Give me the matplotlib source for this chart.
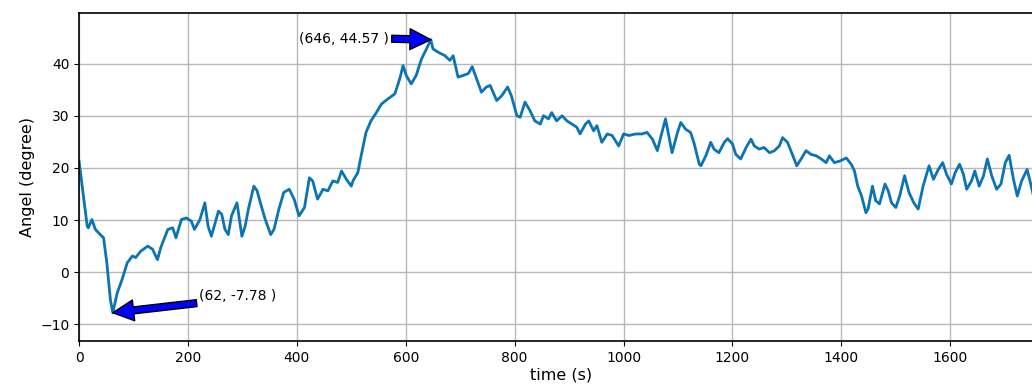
import numpy as np
import matplotlib
matplotlib.use('Agg')
import matplotlib.pyplot as plt

# angle trace, sampled by hand along the recording (t in s, angle in degree)
t = [0, 15, 17, 23.5, 30, 39, 45, 51, 57.6, 62, 70, 79, 88.5, 98, 104, 113, 126, 135, 144, 150,
     163, 172, 178, 188, 197, 206, 212, 222, 231, 237, 243, 256, 262, 268, 274, 280, 290, 299, 305, 311,
     321, 327, 333, 342, 352, 358, 367, 376, 386, 395, 404, 414, 423, 429, 438, 448, 457, 466, 475, 482,
     491, 500, 503, 512, 518, 527, 536, 546, 555, 567, 580, 589, 595, 601, 610, 619, 629, 638, 646, 650,
     659, 672, 681, 687, 696, 705, 715, 722, 730, 739, 748, 755, 767, 776, 787, 794, 804, 810, 819, 828,
     837, 847, 853, 862, 868, 877, 887, 896, 905, 914, 920, 930, 936, 945, 951, 960, 970, 979, 991, 1000,
     1010, 1022, 1034, 1043, 1053, 1062, 1068, 1077, 1083, 1089, 1099, 1105, 1114, 1123, 1129, 1139, 1142, 1151, 1160, 1166,
     1175, 1185, 1191, 1200, 1206, 1215, 1225, 1234, 1240, 1249, 1258, 1268, 1277, 1286, 1292, 1301, 1311, 1318, 1326, 1335,
     1344, 1354, 1363, 1372, 1378, 1387, 1397, 1409, 1418, 1424, 1430, 1437, 1445, 1449, 1457, 1463, 1470, 1480, 1486, 1492,
     1500, 1507, 1516, 1524, 1533, 1541, 1550, 1561, 1569, 1578, 1586, 1593, 1602, 1609, 1617, 1624, 1630, 1639, 1645, 1653,
     1661, 1668, 1676, 1685, 1693, 1701, 1708, 1716, 1723, 1731, 1741, 1747, 1754, 1760]
angle = [21.3, 8.8, 8.5, 10.1, 8.2, 7.2, 6.6, 1.8, -5.3, -7.78, -4.0, -1.4, 1.8, 3.1, 2.8, 4.0, 5.0, 4.4, 2.4, 4.7,
         8.2, 8.5, 6.6, 10.1, 10.4, 9.8, 8.2, 10.1, 13.3, 8.8, 6.9, 11.7, 11.1, 8.2, 7.2, 10.8, 13.3, 6.9, 8.8, 12.1,
         16.5, 15.6, 13.3, 10.1, 7.2, 8.2, 12.1, 15.3, 15.9, 14.0, 10.8, 12.4, 18.1, 17.5, 14.0, 15.9, 15.6, 17.5, 17.2, 19.4,
         17.8, 16.5, 17.5, 19.1, 22.3, 26.8, 29.0, 30.6, 32.2, 33.2, 34.2, 37.1, 39.6, 37.7, 36.1, 37.7, 40.9, 42.8, 44.57, 42.8,
         42.2, 41.5, 40.6, 41.5, 37.4, 37.7, 38.1, 39.4, 37.1, 34.5, 35.5, 35.8, 32.9, 33.8, 35.5, 33.8, 30.0, 29.7, 32.6, 31.0,
         29.0, 28.4, 30.0, 29.4, 30.6, 29.0, 30.0, 29.0, 28.4, 27.8, 26.5, 28.4, 29.0, 27.1, 28.1, 24.9, 26.5, 26.2, 24.2, 26.5,
         26.2, 26.5, 26.5, 26.8, 25.5, 23.3, 25.8, 29.4, 26.2, 22.9, 26.8, 28.7, 27.4, 26.8, 24.9, 20.7, 20.4, 22.3, 24.9, 23.6,
         22.9, 24.9, 25.6, 24.6, 22.6, 21.7, 23.9, 25.5, 24.2, 23.6, 23.9, 22.9, 23.3, 24.2, 25.8, 24.9, 22.3, 20.4, 21.7, 23.3,
         22.6, 22.3, 21.7, 21.0, 22.3, 21.0, 21.3, 21.9, 20.7, 19.4, 16.5, 14.6, 11.4, 12.1, 16.5, 13.7, 13.1, 16.9, 15.6, 13.3,
         12.4, 14.6, 18.5, 15.3, 13.3, 12.1, 16.5, 20.4, 17.8, 19.7, 21.0, 18.8, 16.9, 19.1, 20.7, 18.8, 15.9, 17.5, 19.4, 16.5,
         18.5, 21.7, 18.5, 15.9, 16.9, 21.0, 22.4, 17.8, 14.6, 17.5, 19.7, 17.2, 14.0, 13.5]

x_ticks = [0, 200, 400, 600, 800, 1000, 1200, 1400, 1600]
y_ticks = [-10, 0, 10, 20, 30, 40]

fig = plt.figure(figsize=(10.32, 3.92), dpi=100)
ax = fig.add_axes([0.0766, 0.130, 0.935, 0.837])

ax.plot(t, angle, color='#0a74b4', lw=2.0)

arrow_kw = dict(facecolor='blue', edgecolor='black', shrink=0.0,
                width=5, headwidth=15, headlength=15)
ax.annotate('(62, -7.78 )', xy=(62, -7.78), xytext=(221, -5.3),
            fontsize=10, arrowprops=arrow_kw)
ax.annotate('(646, 44.57 )', xy=(646, 44.57), xytext=(404, 44.0),
            fontsize=10, arrowprops=arrow_kw)

ax.set_xlim(0, 1772)
ax.set_ylim(-13.2, 49.7)
ax.set_xticks(x_ticks)
ax.set_yticks(y_ticks)
ax.tick_params(labelsize=10)
ax.grid(True, color='#b8b8b8', lw=1)
ax.set_xlabel('time (s)', fontsize=11.5, labelpad=2)
ax.set_ylabel('Angel (degree)', fontsize=11.5)
for s in ax.spines.values():
    s.set_linewidth(1.2)

fig.savefig('out.png', dpi=100)
